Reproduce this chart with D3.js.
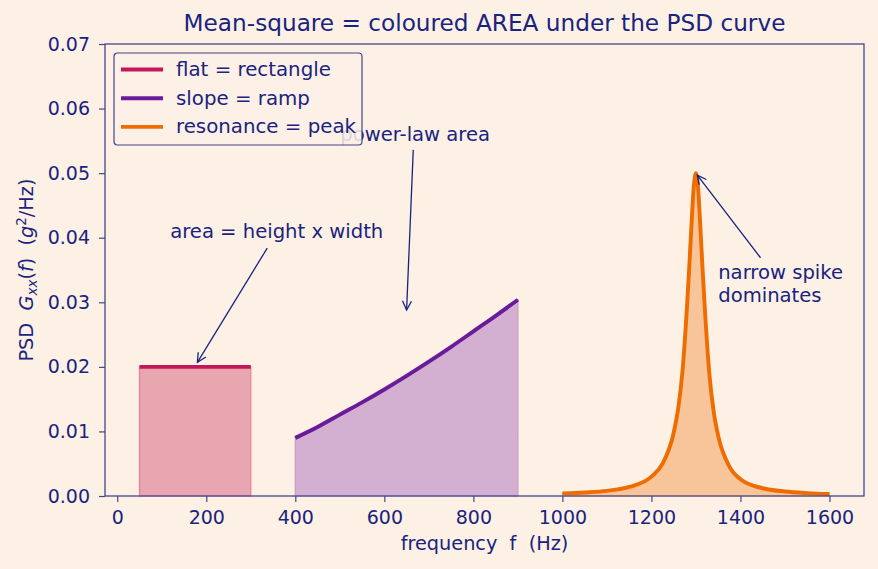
<!DOCTYPE html>
<html>
<head>
<meta charset="utf-8">
<script src="https://cdn.jsdelivr.net/npm/d3@7"></script>
<style>
  body { margin: 0; background: #fdf1e6; }
  svg { display: block; font-family: "DejaVu Sans", sans-serif; }
</style>
</head>
<body>
<div id="canvas"></div>
<script>
// values
const flatF = [50, 300];
const flatG = [0.02, 0.02];

const rampF = [400, 450, 500, 550, 600, 650, 700, 750, 800, 850, 900];
const rampG = [0.0090, 0.0107, 0.0126, 0.0145, 0.0165, 0.0186, 0.0208, 0.0231, 0.0255, 0.0279, 0.0304];

const peakF = [1000, 1050, 1100, 1150, 1200, 1225, 1250, 1260, 1270, 1280, 1285, 1290, 1295, 1300,
               1305, 1310, 1315, 1320, 1330, 1340, 1350, 1375, 1400, 1450, 1500, 1550, 1600];
const peakG = [0.0004, 0.00055, 0.0008, 0.0014, 0.0030, 0.0050, 0.0098, 0.0135, 0.0195, 0.0295, 0.0355, 0.0420, 0.0478, 0.0500,
               0.0475, 0.0415, 0.0350, 0.0290, 0.0190, 0.0130, 0.0093, 0.0046, 0.0026, 0.0012, 0.0007, 0.00045, 0.0003];

const xTicks = [0, 200, 400, 600, 800, 1000, 1200, 1400, 1600];
const yTicks = [0, 0.01, 0.02, 0.03, 0.04, 0.05, 0.06, 0.07];

const seriesNames = ['flat = rectangle', 'slope = ramp', 'resonance = peak'];
const lineColors = ['#c2185b', '#6a1b9a', '#ef6c00'];
const fillColors = ['#e8a6b1', '#d3b0d1', '#f8c49a'];
const edgeColors = ['#e5809a', '#c79cc9', '#f5b27a'];

const navy = '#1a237e';
const spine = '#45458a';

const width = 878, height = 569;
const margin = {left: 105, right: 14, top: 44, bottom: 73};

const svg = d3.select('#canvas')
    .append('svg')
    .attr('width', width)
    .attr('height', height);

svg.append('rect').attr('width', width).attr('height', height).attr('fill', '#fdf1e6');

const x = d3.scaleLinear()
    .domain([-27.5, 1677.5])
    .range([margin.left, width - margin.right]);

const y = d3.scaleLinear()
    .domain([0, 0.07])
    .range([height - margin.bottom, margin.top]);

const defs = svg.append('defs');
defs.append('marker')
    .attr('id', 'arr')
    .attr('viewBox', '-10 -6 12 12')
    .attr('refX', 0).attr('refY', 0)
    .attr('markerWidth', 12).attr('markerHeight', 12)
    .attr('markerUnits', 'userSpaceOnUse')
    .attr('orient', 'auto')
    .append('path')
    .attr('d', 'M-9,-4.5 L0,0 L-9,4.5')
    .attr('fill', 'none')
    .attr('stroke', navy)
    .attr('stroke-width', 1.3);

const series = [
  {f: flatF, g: flatG, curve: d3.curveLinear},
  {f: rampF, g: rampG, curve: d3.curveMonotoneX},
  {f: peakF, g: peakG, curve: d3.curveMonotoneX}
];

const plot = svg.append('g');

series.forEach((s, i) => {
  const pts = s.f.map((f, j) => [f, s.g[j]]);
  const area = d3.area()
      .x(d => x(d[0]))
      .y0(y(0))
      .y1(d => y(d[1]))
      .curve(s.curve);
  const line = d3.line()
      .x(d => x(d[0]))
      .y(d => y(d[1]))
      .curve(s.curve);
  plot.append('path')
      .attr('d', area(pts))
      .attr('fill', fillColors[i])
      .attr('stroke', edgeColors[i])
      .attr('stroke-width', 1.2);
  plot.append('path')
      .attr('d', line(pts))
      .attr('fill', 'none')
      .attr('stroke', lineColors[i])
      .attr('stroke-width', 3.9)
      .attr('stroke-linejoin', 'round');
});

// axes
const xAxis = svg.append('g')
    .attr('transform', `translate(0,${height - margin.bottom})`)
    .call(d3.axisBottom(x).tickValues(xTicks).tickSize(6).tickPadding(9).tickFormat(d3.format('d')));
const yAxis = svg.append('g')
    .attr('transform', `translate(${margin.left},0)`)
    .call(d3.axisLeft(y).tickValues(yTicks).tickSize(6).tickPadding(9).tickFormat(d3.format('.2f')));

[xAxis, yAxis].forEach(a => {
  a.select('.domain').remove();
  a.selectAll('.tick line').attr('stroke', spine).attr('stroke-width', 1.2);
  a.selectAll('.tick text').attr('fill', navy).style('font-size', '19px').style('font-family', '"DejaVu Sans", sans-serif');
});

svg.append('rect')
    .attr('x', margin.left).attr('y', margin.top)
    .attr('width', width - margin.left - margin.right)
    .attr('height', height - margin.top - margin.bottom)
    .attr('fill', 'none')
    .attr('stroke', spine)
    .attr('stroke-width', 1.3);

// title and axis labels
svg.append('text')
    .attr('x', (margin.left + width - margin.right) / 2).attr('y', 31)
    .attr('text-anchor', 'middle')
    .attr('fill', navy)
    .style('font-size', '23.2px')
    .text('Mean-square = coloured AREA under the PSD curve');

svg.append('text')
    .attr('x', (margin.left + width - margin.right) / 2).attr('y', 550)
    .attr('text-anchor', 'middle')
    .attr('fill', navy)
    .style('font-size', '19.3px')
    .attr('xml:space', 'preserve')
    .text('frequency  f  (Hz)');

const yl = svg.append('text')
    .attr('transform', `translate(33,${(margin.top + height - margin.bottom) / 2}) rotate(-90)`)
    .attr('text-anchor', 'middle')
    .attr('fill', navy)
    .style('font-size', '19.3px')
    .attr('xml:space', 'preserve');
yl.append('tspan').text('PSD  ');
yl.append('tspan').style('font-style', 'italic').text('G');
yl.append('tspan').style('font-size', '13.5px').style('font-style', 'italic').attr('dy', 4).text('xx');
yl.append('tspan').attr('dy', -4).text('(');
yl.append('tspan').style('font-style', 'italic').text('f');
yl.append('tspan').text(')  (');
yl.append('tspan').style('font-style', 'italic').text('g');
yl.append('tspan').style('font-size', '13.5px').attr('dy', -7).text('2');
yl.append('tspan').attr('dy', 7).text('/Hz)');

// annotations (data coordinates)
const notes = [
  {lines: ['area = height x width'], tx: 119, ty: 0.0400, from: [337, 0.0384], to: [180, 0.0207]},
  {lines: ['power-law area'], tx: 501, ty: 0.0550, from: [665, 0.0536], to: [650, 0.0288]},
  {lines: ['narrow spike', 'dominates'], tx: 1350, ty: 0.0336, from: [1445, 0.0369], to: [1303, 0.0497]}
];

const ann = svg.append('g');
notes.forEach(n => {
  ann.append('line')
      .attr('x1', x(n.from[0])).attr('y1', y(n.from[1]))
      .attr('x2', x(n.to[0])).attr('y2', y(n.to[1]))
      .attr('stroke', navy)
      .attr('stroke-width', 1.3)
      .attr('marker-end', 'url(#arr)');
  const t = ann.append('text')
      .attr('x', x(n.tx)).attr('y', y(n.ty))
      .attr('fill', navy)
      .style('font-size', '19.6px');
  n.lines.forEach((l, k) => {
    t.append('tspan').attr('x', x(n.tx)).attr('dy', k === 0 ? 0 : 22.5).text(l);
  });
});

// legend
const lg = svg.append('g').attr('transform', 'translate(114,53)');
lg.append('rect')
    .attr('width', 248).attr('height', 92)
    .attr('rx', 3.5)
    .attr('fill', '#fdf1e6')
    .attr('fill-opacity', 0.85)
    .attr('stroke', spine)
    .attr('stroke-width', 1.2);
seriesNames.forEach((name, i) => {
  const gy = 16.5 + i * 28.7;
  lg.append('line')
      .attr('x1', 7).attr('x2', 49)
      .attr('y1', gy).attr('y2', gy)
      .attr('stroke', lineColors[i])
      .attr('stroke-width', 3.9);
  lg.append('text')
      .attr('x', 62).attr('y', gy + 6.5)
      .attr('fill', navy)
      .style('font-size', '19.8px')
      .text(name);
});
</script>
</body>
</html>
